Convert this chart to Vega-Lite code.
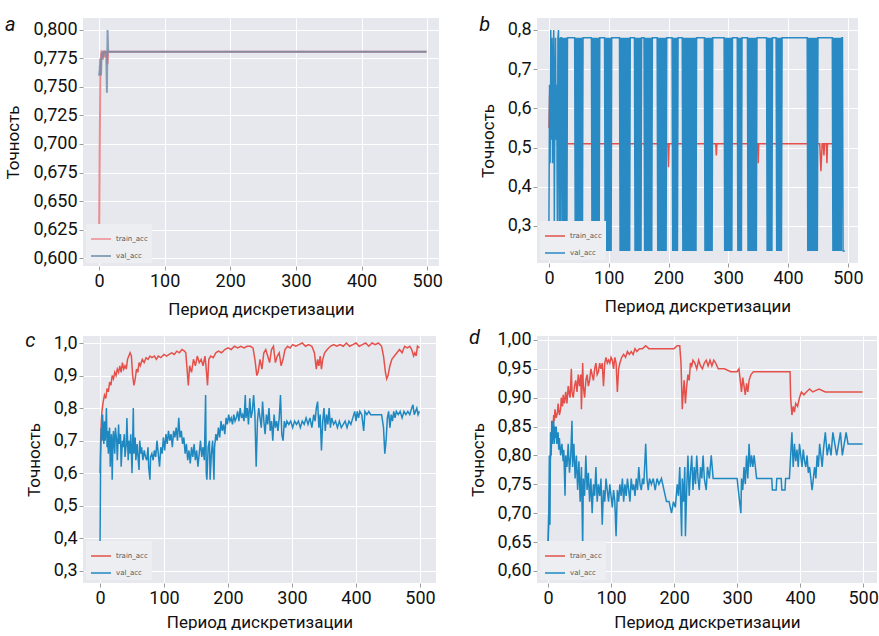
{
"$schema":"https://vega.github.io/schema/vega-lite/v6.json",
"background":"white",
"padding":{"left":4,"top":15,"right":0,"bottom":0},
"autosize":{"type":"pad"},
"columns":2,
"bounds":"flush",
"spacing":{"row":70,"column":98},
"resolve":{"scale":{"x":"independent","y":"independent","color":"independent"},"legend":{"color":"independent"}},
"config":{
"font":"Roboto",
"view":{"fill":"#e6e8ed","stroke":null},
"axis":{"domain":false,"grid":true,"gridColor":"#ffffff","gridWidth":1,"tickColor":"#9a9a9a","tickSize":4,"labelFontSize":18,"labelColor":"#111111","titleFontSize":17,"titleFontWeight":"normal","titleColor":"#111111","labelPadding":2},
"axisX":{"titlePadding":11},
"axisY":{"titlePadding":10},
"legend":{"orient":"bottom-left","offset":3,"symbolType":"stroke","symbolSize":400,"symbolStrokeWidth":1.5,"labelFontSize":7,"labelFont":"DejaVu Sans","labelColor":"#555555","rowPadding":3,"padding":4,"fillColor":"#eceef2","titleFontSize":0},
"title":{"anchor":"start","frame":"bounds","fontStyle":"italic","fontSize":20,"fontWeight":"normal","baseline":"alphabetic","offset":-17,"color":"#111111"},
"line":{"strokeWidth":1.5}
},
"datasets":{
"at":[{"x":0,"y":0.604},{"x":1,"y":0.69},{"x":2,"y":0.76},{"x":3,"y":0.778},{"x":4,"y":0.782},{"x":5,"y":0.779},{"x":6,"y":0.774},{"x":7,"y":0.78},{"x":8,"y":0.782},{"x":9,"y":0.776},{"x":10,"y":0.781},{"x":12,"y":0.781},{"x":13,"y":0.77},{"x":14,"y":0.781},{"x":16,"y":0.781},{"x":499,"y":0.781}],
"av":[{"x":0,"y":0.76},{"x":1,"y":0.765},{"x":2,"y":0.775},{"x":3,"y":0.76},{"x":4,"y":0.778},{"x":5,"y":0.781},{"x":6,"y":0.776},{"x":8,"y":0.781},{"x":11,"y":0.781},{"x":12,"y":0.745},{"x":13,"y":0.8},{"x":14,"y":0.781},{"x":15,"y":0.781},{"x":499,"y":0.781}],
"bt":[{"x":0,"y":0.55},{"x":1,"y":0.63},{"x":2,"y":0.66},{"x":3,"y":0.6},{"x":4,"y":0.65},{"x":5,"y":0.62},{"x":6,"y":0.66},{"x":7,"y":0.58},{"x":8,"y":0.64},{"x":9,"y":0.6},{"x":10,"y":0.65},{"x":11,"y":0.58},{"x":12,"y":0.62},{"x":13,"y":0.57},{"x":14,"y":0.6},{"x":15,"y":0.55},{"x":16,"y":0.57},{"x":17,"y":0.53},{"x":18,"y":0.55},{"x":20,"y":0.52},{"x":22,"y":0.51},{"x":44,"y":0.51},{"x":45,"y":0.49},{"x":46,"y":0.51},{"x":95,"y":0.51},{"x":96,"y":0.48},{"x":97,"y":0.51},{"x":99,"y":0.51},{"x":100,"y":0.49},{"x":101,"y":0.51},{"x":199,"y":0.51},{"x":200,"y":0.45},{"x":201,"y":0.51},{"x":224,"y":0.51},{"x":225,"y":0.48},{"x":226,"y":0.51},{"x":279,"y":0.51},{"x":280,"y":0.48},{"x":281,"y":0.51},{"x":349,"y":0.51},{"x":350,"y":0.46},{"x":351,"y":0.51},{"x":369,"y":0.51},{"x":370,"y":0.48},{"x":371,"y":0.51},{"x":453,"y":0.51},{"x":455,"y":0.44},{"x":457,"y":0.51},{"x":459,"y":0.51},{"x":460,"y":0.48},{"x":461,"y":0.51},{"x":464,"y":0.51},{"x":465,"y":0.46},{"x":466,"y":0.51},{"x":485,"y":0.51},{"x":488,"y":0.5},{"x":492,"y":0.5}],
"bv":[{"x":0,"y":0.3},{"x":1,"y":0.66},{"x":2,"y":0.46},{"x":3,"y":0.8},{"x":4,"y":0.52},{"x":5,"y":0.78},{"x":6,"y":0.46},{"x":7,"y":0.7},{"x":8,"y":0.8},{"x":9,"y":0.3},{"x":10,"y":0.62},{"x":11,"y":0.78},{"x":12,"y":0.52},{"x":13,"y":0.66},{"x":14,"y":0.3},{"x":15,"y":0.78},{"x":16,"y":0.8},{"x":17,"y":0.3},{"x":18,"y":0.78},{"x":19,"y":0.3},{"x":20,"y":0.78},{"x":21,"y":0.78},
{"x":22,"y":0.236},{"x":23,"y":0.78},{"x":24,"y":0.236},{"x":25,"y":0.78},{"x":26,"y":0.236},{"x":27,"y":0.78},{"x":28,"y":0.236},{"x":29,"y":0.78},{"x":30,"y":0.236},{"x":31,"y":0.78},
{"x":43,"y":0.78},{"x":44,"y":0.236},{"x":45,"y":0.78},{"x":46,"y":0.236},{"x":47,"y":0.78},{"x":48,"y":0.236},{"x":49,"y":0.78},{"x":50,"y":0.236},{"x":51,"y":0.78},{"x":52,"y":0.236},{"x":53,"y":0.78},{"x":54,"y":0.236},{"x":55,"y":0.78},{"x":56,"y":0.236},{"x":57,"y":0.78},
{"x":71,"y":0.78},{"x":72,"y":0.236},{"x":73,"y":0.78},{"x":74,"y":0.236},{"x":75,"y":0.78},{"x":76,"y":0.236},{"x":77,"y":0.78},{"x":78,"y":0.236},{"x":79,"y":0.78},{"x":80,"y":0.236},{"x":81,"y":0.78},{"x":82,"y":0.236},{"x":83,"y":0.78},{"x":84,"y":0.236},{"x":85,"y":0.78},
{"x":93,"y":0.78},{"x":94,"y":0.236},{"x":95,"y":0.78},{"x":96,"y":0.236},{"x":97,"y":0.78},{"x":98,"y":0.236},{"x":99,"y":0.78},{"x":100,"y":0.236},{"x":101,"y":0.78},{"x":102,"y":0.236},{"x":103,"y":0.78},{"x":104,"y":0.236},{"x":105,"y":0.78},
{"x":118,"y":0.78},{"x":119,"y":0.236},{"x":120,"y":0.78},{"x":121,"y":0.236},{"x":122,"y":0.78},{"x":123,"y":0.236},{"x":124,"y":0.78},{"x":125,"y":0.236},{"x":126,"y":0.78},{"x":127,"y":0.236},{"x":128,"y":0.78},{"x":129,"y":0.236},{"x":130,"y":0.78},{"x":131,"y":0.236},{"x":132,"y":0.78},{"x":133,"y":0.236},{"x":134,"y":0.78},{"x":135,"y":0.236},{"x":136,"y":0.78},
{"x":143,"y":0.78},{"x":144,"y":0.236},{"x":145,"y":0.78},{"x":146,"y":0.236},{"x":147,"y":0.78},{"x":148,"y":0.236},{"x":149,"y":0.78},{"x":150,"y":0.236},{"x":151,"y":0.78},{"x":152,"y":0.236},{"x":153,"y":0.78},{"x":154,"y":0.236},{"x":155,"y":0.78},
{"x":159,"y":0.78},{"x":160,"y":0.236},{"x":161,"y":0.78},{"x":162,"y":0.236},{"x":163,"y":0.78},{"x":164,"y":0.236},{"x":165,"y":0.78},{"x":166,"y":0.236},{"x":167,"y":0.78},{"x":168,"y":0.236},{"x":169,"y":0.78},{"x":170,"y":0.236},{"x":171,"y":0.78},{"x":172,"y":0.236},{"x":173,"y":0.78},
{"x":181,"y":0.78},{"x":182,"y":0.236},{"x":183,"y":0.78},{"x":184,"y":0.236},{"x":185,"y":0.78},{"x":186,"y":0.236},{"x":187,"y":0.78},{"x":188,"y":0.236},{"x":189,"y":0.78},{"x":190,"y":0.236},{"x":191,"y":0.78},{"x":192,"y":0.236},{"x":193,"y":0.78},{"x":194,"y":0.236},{"x":195,"y":0.78},{"x":196,"y":0.236},{"x":197,"y":0.78},
{"x":206,"y":0.78},{"x":207,"y":0.236},{"x":208,"y":0.78},{"x":209,"y":0.236},{"x":210,"y":0.78},{"x":211,"y":0.236},{"x":212,"y":0.78},{"x":213,"y":0.236},{"x":214,"y":0.78},{"x":215,"y":0.236},{"x":216,"y":0.78},
{"x":223,"y":0.78},{"x":224,"y":0.236},{"x":225,"y":0.78},{"x":226,"y":0.236},{"x":227,"y":0.78},{"x":228,"y":0.236},{"x":229,"y":0.78},{"x":230,"y":0.236},{"x":231,"y":0.78},{"x":232,"y":0.236},{"x":233,"y":0.78},{"x":234,"y":0.236},{"x":235,"y":0.78},{"x":236,"y":0.236},{"x":237,"y":0.78},{"x":238,"y":0.236},{"x":239,"y":0.78},{"x":240,"y":0.236},{"x":241,"y":0.78},{"x":242,"y":0.236},{"x":243,"y":0.78},{"x":244,"y":0.236},{"x":245,"y":0.78},{"x":246,"y":0.236},{"x":247,"y":0.78},
{"x":260,"y":0.78},{"x":261,"y":0.236},{"x":262,"y":0.78},{"x":263,"y":0.236},{"x":264,"y":0.78},{"x":265,"y":0.236},{"x":266,"y":0.78},{"x":267,"y":0.236},{"x":268,"y":0.78},{"x":269,"y":0.236},{"x":270,"y":0.78},{"x":271,"y":0.236},{"x":272,"y":0.78},{"x":273,"y":0.236},{"x":274,"y":0.78},
{"x":293,"y":0.78},{"x":294,"y":0.236},{"x":295,"y":0.78},{"x":296,"y":0.236},{"x":297,"y":0.78},{"x":298,"y":0.236},{"x":299,"y":0.78},{"x":300,"y":0.236},{"x":301,"y":0.78},{"x":302,"y":0.236},{"x":303,"y":0.78},{"x":304,"y":0.236},{"x":305,"y":0.78},{"x":306,"y":0.236},{"x":307,"y":0.78},
{"x":315,"y":0.78},{"x":316,"y":0.236},{"x":317,"y":0.78},{"x":318,"y":0.236},{"x":319,"y":0.78},{"x":320,"y":0.236},{"x":321,"y":0.78},{"x":322,"y":0.236},{"x":323,"y":0.78},
{"x":332,"y":0.78},{"x":333,"y":0.236},{"x":334,"y":0.78},{"x":335,"y":0.236},{"x":336,"y":0.78},{"x":337,"y":0.236},{"x":338,"y":0.78},{"x":339,"y":0.236},{"x":340,"y":0.78},{"x":341,"y":0.236},{"x":342,"y":0.78},{"x":343,"y":0.236},{"x":344,"y":0.78},{"x":345,"y":0.236},{"x":346,"y":0.78},{"x":347,"y":0.236},{"x":348,"y":0.78},
{"x":364,"y":0.78},{"x":365,"y":0.236},{"x":366,"y":0.78},{"x":367,"y":0.236},{"x":368,"y":0.78},{"x":369,"y":0.236},{"x":370,"y":0.78},{"x":371,"y":0.236},{"x":372,"y":0.78},{"x":373,"y":0.236},{"x":374,"y":0.78},
{"x":380,"y":0.78},{"x":381,"y":0.236},{"x":382,"y":0.78},{"x":383,"y":0.236},{"x":384,"y":0.78},{"x":385,"y":0.236},{"x":386,"y":0.78},{"x":387,"y":0.236},{"x":388,"y":0.78},{"x":389,"y":0.236},{"x":390,"y":0.78},
{"x":432,"y":0.78},{"x":433,"y":0.236},{"x":434,"y":0.78},{"x":435,"y":0.236},{"x":436,"y":0.78},{"x":437,"y":0.236},{"x":438,"y":0.78},{"x":439,"y":0.236},{"x":440,"y":0.78},{"x":441,"y":0.236},{"x":442,"y":0.78},{"x":443,"y":0.236},{"x":444,"y":0.78},{"x":445,"y":0.236},{"x":446,"y":0.78},{"x":447,"y":0.236},{"x":448,"y":0.78},{"x":449,"y":0.236},{"x":450,"y":0.78},
{"x":474,"y":0.78},{"x":475,"y":0.236},{"x":476,"y":0.78},{"x":477,"y":0.236},{"x":478,"y":0.78},{"x":479,"y":0.236},{"x":480,"y":0.78},{"x":481,"y":0.236},{"x":482,"y":0.78},{"x":483,"y":0.236},{"x":484,"y":0.78},{"x":485,"y":0.236},{"x":486,"y":0.78},{"x":487,"y":0.236},{"x":488,"y":0.78},{"x":489,"y":0.236},{"x":490,"y":0.78},
{"x":491,"y":0.78},{"x":492,"y":0.236},{"x":495,"y":0.236}],
"ct":[{"x":0,"y":0.6},{"x":1,"y":0.7},{"x":2,"y":0.76},{"x":3,"y":0.79},{"x":5,"y":0.82},{"x":7,"y":0.84},{"x":9,"y":0.83},{"x":11,"y":0.86},{"x":13,"y":0.85},{"x":15,"y":0.88},{"x":17,"y":0.87},{"x":19,"y":0.9},{"x":21,"y":0.89},{"x":23,"y":0.91},{"x":25,"y":0.9},{"x":27,"y":0.92},{"x":29,"y":0.91},{"x":31,"y":0.93},{"x":33,"y":0.91},{"x":35,"y":0.94},{"x":37,"y":0.92},{"x":39,"y":0.93},{"x":41,"y":0.92},{"x":43,"y":0.95},{"x":45,"y":0.96},{"x":47,"y":0.97},{"x":49,"y":0.96},{"x":51,"y":0.9},{"x":53,"y":0.87},{"x":55,"y":0.89},{"x":57,"y":0.92},{"x":59,"y":0.91},{"x":61,"y":0.94},{"x":63,"y":0.93},{"x":66,"y":0.95},{"x":69,"y":0.94},{"x":72,"y":0.955},{"x":75,"y":0.95},{"x":78,"y":0.96},{"x":81,"y":0.955},{"x":85,"y":0.96},{"x":88,"y":0.95},{"x":91,"y":0.96},{"x":95,"y":0.955},{"x":100,"y":0.965},{"x":104,"y":0.96},{"x":108,"y":0.965},{"x":112,"y":0.97},{"x":116,"y":0.965},{"x":120,"y":0.975},{"x":124,"y":0.97},{"x":128,"y":0.98},{"x":132,"y":0.975},{"x":134,"y":0.97},{"x":136,"y":0.92},{"x":138,"y":0.87},{"x":140,"y":0.93},{"x":143,"y":0.91},{"x":146,"y":0.95},{"x":149,"y":0.93},{"x":152,"y":0.96},{"x":155,"y":0.94},{"x":158,"y":0.95},{"x":161,"y":0.93},{"x":164,"y":0.96},{"x":166,"y":0.92},{"x":168,"y":0.87},{"x":170,"y":0.95},{"x":173,"y":0.96},{"x":177,"y":0.955},{"x":181,"y":0.97},{"x":185,"y":0.975},{"x":190,"y":0.97},{"x":195,"y":0.98},{"x":200,"y":0.985},{"x":205,"y":0.98},{"x":210,"y":0.99},{"x":215,"y":0.985},{"x":220,"y":0.99},{"x":225,"y":0.985},{"x":230,"y":0.99},{"x":235,"y":0.99},{"x":239,"y":0.985},{"x":242,"y":0.95},{"x":245,"y":0.9},{"x":247,"y":0.91},{"x":250,"y":0.95},{"x":253,"y":0.92},{"x":256,"y":0.97},{"x":259,"y":0.98},{"x":262,"y":0.96},{"x":265,"y":0.94},{"x":268,"y":0.98},{"x":271,"y":0.99},{"x":274,"y":0.94},{"x":277,"y":0.96},{"x":280,"y":0.97},{"x":283,"y":0.93},{"x":286,"y":0.95},{"x":289,"y":0.98},{"x":293,"y":0.99},{"x":297,"y":0.985},{"x":301,"y":0.995},{"x":306,"y":0.99},{"x":311,"y":0.995},{"x":316,"y":1.0},{"x":321,"y":0.99},{"x":326,"y":0.995},{"x":331,"y":0.99},{"x":335,"y":0.97},{"x":338,"y":0.92},{"x":340,"y":0.95},{"x":342,"y":0.93},{"x":344,"y":0.96},{"x":346,"y":0.92},{"x":348,"y":0.95},{"x":351,"y":0.97},{"x":355,"y":0.98},{"x":360,"y":0.99},{"x":365,"y":0.995},{"x":370,"y":0.99},{"x":375,"y":0.995},{"x":380,"y":0.99},{"x":385,"y":1.0},{"x":390,"y":0.99},{"x":395,"y":0.995},{"x":400,"y":1.0},{"x":405,"y":0.99},{"x":410,"y":0.995},{"x":415,"y":1.0},{"x":420,"y":0.99},{"x":425,"y":1.0},{"x":430,"y":0.995},{"x":435,"y":1.0},{"x":440,"y":0.99},{"x":443,"y":0.96},{"x":446,"y":0.91},{"x":448,"y":0.89},{"x":450,"y":0.9},{"x":453,"y":0.93},{"x":456,"y":0.95},{"x":460,"y":0.96},{"x":464,"y":0.97},{"x":468,"y":0.98},{"x":472,"y":0.97},{"x":476,"y":0.99},{"x":480,"y":0.985},{"x":484,"y":0.99},{"x":487,"y":0.98},{"x":490,"y":0.96},{"x":492,"y":0.97},{"x":494,"y":0.96},{"x":496,"y":0.99},{"x":499,"y":0.985}],
"cv":[{"x":0,"y":0.37},{"x":1,"y":0.66},{"x":2,"y":0.74},{"x":3,"y":0.7},{"x":4,"y":0.78},{"x":5,"y":0.72},{"x":6,"y":0.69},{"x":7,"y":0.76},{"x":8,"y":0.7},{"x":9,"y":0.74},{"x":10,"y":0.8},{"x":11,"y":0.68},{"x":12,"y":0.73},{"x":13,"y":0.66},{"x":14,"y":0.72},{"x":15,"y":0.74},{"x":16,"y":0.62},{"x":17,"y":0.7},{"x":18,"y":0.72},{"x":19,"y":0.58},{"x":20,"y":0.68},{"x":21,"y":0.73},{"x":23,"y":0.66},{"x":24,"y":0.74},{"x":26,"y":0.7},{"x":27,"y":0.64},{"x":29,"y":0.75},{"x":30,"y":0.69},{"x":32,"y":0.72},{"x":33,"y":0.62},{"x":35,"y":0.7},{"x":36,"y":0.68},{"x":38,"y":0.72},{"x":39,"y":0.65},{"x":41,"y":0.69},{"x":42,"y":0.77},{"x":44,"y":0.64},{"x":45,"y":0.7},{"x":47,"y":0.66},{"x":48,"y":0.72},{"x":50,"y":0.6},{"x":51,"y":0.7},{"x":52,"y":0.8},{"x":53,"y":0.66},{"x":55,"y":0.71},{"x":56,"y":0.64},{"x":58,"y":0.69},{"x":59,"y":0.66},{"x":61,"y":0.61},{"x":62,"y":0.7},{"x":64,"y":0.66},{"x":65,"y":0.68},{"x":67,"y":0.64},{"x":69,"y":0.67},{"x":71,"y":0.65},{"x":73,"y":0.64},{"x":75,"y":0.68},{"x":76,"y":0.62},{"x":78,"y":0.58},{"x":79,"y":0.65},{"x":81,"y":0.66},{"x":83,"y":0.64},{"x":85,"y":0.67},{"x":87,"y":0.65},{"x":89,"y":0.7},{"x":91,"y":0.66},{"x":93,"y":0.62},{"x":95,"y":0.68},{"x":97,"y":0.66},{"x":99,"y":0.71},{"x":101,"y":0.67},{"x":103,"y":0.72},{"x":105,"y":0.69},{"x":107,"y":0.73},{"x":109,"y":0.7},{"x":111,"y":0.72},{"x":113,"y":0.68},{"x":115,"y":0.73},{"x":117,"y":0.71},{"x":119,"y":0.74},{"x":121,"y":0.7},{"x":123,"y":0.77},{"x":125,"y":0.71},{"x":127,"y":0.73},{"x":129,"y":0.69},{"x":131,"y":0.71},{"x":133,"y":0.66},{"x":135,"y":0.69},{"x":137,"y":0.64},{"x":139,"y":0.67},{"x":141,"y":0.63},{"x":143,"y":0.68},{"x":145,"y":0.65},{"x":147,"y":0.69},{"x":149,"y":0.64},{"x":151,"y":0.67},{"x":153,"y":0.62},{"x":155,"y":0.66},{"x":157,"y":0.7},{"x":159,"y":0.65},{"x":161,"y":0.68},{"x":163,"y":0.64},{"x":165,"y":0.84},{"x":166,"y":0.6},{"x":167,"y":0.58},{"x":169,"y":0.68},{"x":171,"y":0.7},{"x":172,"y":0.58},{"x":174,"y":0.66},{"x":176,"y":0.7},{"x":178,"y":0.58},{"x":179,"y":0.68},{"x":181,"y":0.72},{"x":183,"y":0.7},{"x":185,"y":0.74},{"x":187,"y":0.71},{"x":189,"y":0.76},{"x":191,"y":0.73},{"x":193,"y":0.75},{"x":195,"y":0.72},{"x":197,"y":0.77},{"x":199,"y":0.75},{"x":201,"y":0.78},{"x":203,"y":0.76},{"x":205,"y":0.77},{"x":207,"y":0.75},{"x":209,"y":0.78},{"x":211,"y":0.76},{"x":213,"y":0.77},{"x":215,"y":0.79},{"x":217,"y":0.76},{"x":219,"y":0.8},{"x":221,"y":0.77},{"x":223,"y":0.78},{"x":225,"y":0.76},{"x":227,"y":0.84},{"x":228,"y":0.77},{"x":230,"y":0.8},{"x":232,"y":0.75},{"x":234,"y":0.83},{"x":236,"y":0.77},{"x":238,"y":0.79},{"x":240,"y":0.84},{"x":242,"y":0.78},{"x":244,"y":0.62},{"x":246,"y":0.76},{"x":248,"y":0.8},{"x":250,"y":0.77},{"x":252,"y":0.74},{"x":254,"y":0.82},{"x":256,"y":0.76},{"x":258,"y":0.72},{"x":260,"y":0.78},{"x":262,"y":0.75},{"x":264,"y":0.8},{"x":266,"y":0.73},{"x":268,"y":0.76},{"x":270,"y":0.7},{"x":272,"y":0.78},{"x":274,"y":0.74},{"x":276,"y":0.76},{"x":278,"y":0.73},{"x":280,"y":0.77},{"x":282,"y":0.84},{"x":284,"y":0.72},{"x":286,"y":0.7},{"x":288,"y":0.76},{"x":290,"y":0.74},{"x":292,"y":0.76},{"x":295,"y":0.75},{"x":298,"y":0.76},{"x":301,"y":0.74},{"x":304,"y":0.76},{"x":307,"y":0.75},{"x":310,"y":0.76},{"x":313,"y":0.74},{"x":316,"y":0.76},{"x":319,"y":0.75},{"x":322,"y":0.77},{"x":325,"y":0.75},{"x":328,"y":0.77},{"x":331,"y":0.74},{"x":334,"y":0.78},{"x":336,"y":0.76},{"x":338,"y":0.8},{"x":340,"y":0.82},{"x":342,"y":0.74},{"x":344,"y":0.78},{"x":346,"y":0.67},{"x":348,"y":0.76},{"x":350,"y":0.8},{"x":352,"y":0.73},{"x":354,"y":0.78},{"x":356,"y":0.75},{"x":358,"y":0.8},{"x":360,"y":0.74},{"x":362,"y":0.77},{"x":365,"y":0.75},{"x":368,"y":0.76},{"x":371,"y":0.74},{"x":374,"y":0.76},{"x":377,"y":0.74},{"x":380,"y":0.75},{"x":383,"y":0.76},{"x":386,"y":0.74},{"x":389,"y":0.76},{"x":392,"y":0.75},{"x":395,"y":0.77},{"x":398,"y":0.79},{"x":400,"y":0.76},{"x":402,"y":0.79},{"x":404,"y":0.77},{"x":406,"y":0.79},{"x":409,"y":0.78},{"x":412,"y":0.73},{"x":414,"y":0.79},{"x":417,"y":0.78},{"x":420,"y":0.79},{"x":423,"y":0.78},{"x":440,"y":0.78},{"x":443,"y":0.74},{"x":445,"y":0.66},{"x":447,"y":0.7},{"x":449,"y":0.77},{"x":451,"y":0.79},{"x":453,"y":0.74},{"x":455,"y":0.78},{"x":457,"y":0.76},{"x":459,"y":0.79},{"x":461,"y":0.77},{"x":463,"y":0.79},{"x":466,"y":0.78},{"x":469,"y":0.79},{"x":472,"y":0.77},{"x":475,"y":0.79},{"x":478,"y":0.78},{"x":481,"y":0.79},{"x":484,"y":0.78},{"x":487,"y":0.8},{"x":489,"y":0.81},{"x":491,"y":0.78},{"x":493,"y":0.79},{"x":495,"y":0.8},{"x":497,"y":0.78},{"x":499,"y":0.79}],
"dt":[{"x":0,"y":0.645},{"x":1,"y":0.7},{"x":2,"y":0.68},{"x":3,"y":0.78},{"x":4,"y":0.8},{"x":5,"y":0.84},{"x":6,"y":0.82},{"x":7,"y":0.86},{"x":8,"y":0.85},{"x":9,"y":0.87},{"x":10,"y":0.86},{"x":11,"y":0.88},{"x":13,"y":0.865},{"x":15,"y":0.875},{"x":16,"y":0.89},{"x":18,"y":0.87},{"x":20,"y":0.88},{"x":21,"y":0.9},{"x":23,"y":0.885},{"x":24,"y":0.905},{"x":26,"y":0.89},{"x":28,"y":0.91},{"x":30,"y":0.89},{"x":32,"y":0.92},{"x":34,"y":0.905},{"x":35,"y":0.9},{"x":37,"y":0.95},{"x":38,"y":0.91},{"x":40,"y":0.9},{"x":42,"y":0.92},{"x":44,"y":0.93},{"x":46,"y":0.91},{"x":48,"y":0.94},{"x":50,"y":0.92},{"x":52,"y":0.94},{"x":53,"y":0.88},{"x":55,"y":0.96},{"x":56,"y":0.92},{"x":58,"y":0.9},{"x":60,"y":0.93},{"x":62,"y":0.94},{"x":64,"y":0.92},{"x":66,"y":0.93},{"x":68,"y":0.95},{"x":70,"y":0.94},{"x":72,"y":0.93},{"x":74,"y":0.95},{"x":76,"y":0.96},{"x":78,"y":0.94},{"x":80,"y":0.945},{"x":82,"y":0.96},{"x":84,"y":0.95},{"x":86,"y":0.96},{"x":88,"y":0.92},{"x":90,"y":0.96},{"x":92,"y":0.97},{"x":94,"y":0.96},{"x":96,"y":0.965},{"x":98,"y":0.96},{"x":100,"y":0.97},{"x":102,"y":0.965},{"x":104,"y":0.95},{"x":106,"y":0.97},{"x":108,"y":0.96},{"x":110,"y":0.91},{"x":112,"y":0.95},{"x":114,"y":0.96},{"x":117,"y":0.97},{"x":120,"y":0.975},{"x":123,"y":0.97},{"x":126,"y":0.98},{"x":129,"y":0.975},{"x":132,"y":0.98},{"x":135,"y":0.975},{"x":138,"y":0.985},{"x":141,"y":0.98},{"x":145,"y":0.985},{"x":150,"y":0.985},{"x":155,"y":0.99},{"x":160,"y":0.985},{"x":170,"y":0.985},{"x":180,"y":0.985},{"x":190,"y":0.985},{"x":200,"y":0.985},{"x":205,"y":0.99},{"x":209,"y":0.99},{"x":211,"y":0.96},{"x":213,"y":0.88},{"x":214,"y":0.9},{"x":216,"y":0.93},{"x":218,"y":0.89},{"x":220,"y":0.92},{"x":222,"y":0.94},{"x":224,"y":0.93},{"x":226,"y":0.96},{"x":228,"y":0.955},{"x":230,"y":0.965},{"x":233,"y":0.96},{"x":236,"y":0.95},{"x":239,"y":0.965},{"x":242,"y":0.955},{"x":245,"y":0.95},{"x":248,"y":0.96},{"x":251,"y":0.965},{"x":254,"y":0.955},{"x":257,"y":0.965},{"x":260,"y":0.955},{"x":263,"y":0.965},{"x":266,"y":0.96},{"x":270,"y":0.95},{"x":280,"y":0.95},{"x":290,"y":0.945},{"x":300,"y":0.945},{"x":303,"y":0.95},{"x":305,"y":0.93},{"x":307,"y":0.91},{"x":309,"y":0.935},{"x":311,"y":0.92},{"x":313,"y":0.905},{"x":315,"y":0.925},{"x":317,"y":0.91},{"x":319,"y":0.93},{"x":322,"y":0.94},{"x":326,"y":0.945},{"x":384,"y":0.945},{"x":385,"y":0.9},{"x":387,"y":0.87},{"x":389,"y":0.885},{"x":391,"y":0.875},{"x":393,"y":0.89},{"x":396,"y":0.885},{"x":399,"y":0.9},{"x":402,"y":0.91},{"x":406,"y":0.905},{"x":410,"y":0.91},{"x":415,"y":0.915},{"x":420,"y":0.91},{"x":430,"y":0.915},{"x":440,"y":0.91},{"x":499,"y":0.91}],
"dv":[{"x":0,"y":0.64},{"x":1,"y":0.68},{"x":2,"y":0.8},{"x":3,"y":0.68},{"x":4,"y":0.84},{"x":5,"y":0.8},{"x":6,"y":0.86},{"x":7,"y":0.82},{"x":8,"y":0.84},{"x":9,"y":0.86},{"x":10,"y":0.82},{"x":11,"y":0.85},{"x":12,"y":0.83},{"x":13,"y":0.85},{"x":14,"y":0.82},{"x":16,"y":0.84},{"x":17,"y":0.81},{"x":18,"y":0.83},{"x":20,"y":0.8},{"x":22,"y":0.82},{"x":24,"y":0.79},{"x":25,"y":0.81},{"x":27,"y":0.73},{"x":28,"y":0.8},{"x":30,"y":0.78},{"x":32,"y":0.82},{"x":34,"y":0.77},{"x":36,"y":0.8},{"x":38,"y":0.86},{"x":39,"y":0.78},{"x":41,"y":0.82},{"x":43,"y":0.76},{"x":45,"y":0.8},{"x":47,"y":0.74},{"x":49,"y":0.79},{"x":51,"y":0.72},{"x":53,"y":0.78},{"x":55,"y":0.64},{"x":56,"y":0.76},{"x":58,"y":0.73},{"x":60,"y":0.8},{"x":62,"y":0.74},{"x":64,"y":0.77},{"x":66,"y":0.72},{"x":68,"y":0.76},{"x":70,"y":0.7},{"x":72,"y":0.75},{"x":74,"y":0.73},{"x":76,"y":0.78},{"x":78,"y":0.72},{"x":80,"y":0.75},{"x":82,"y":0.73},{"x":84,"y":0.76},{"x":86,"y":0.68},{"x":88,"y":0.74},{"x":90,"y":0.72},{"x":92,"y":0.76},{"x":94,"y":0.74},{"x":96,"y":0.72},{"x":98,"y":0.75},{"x":100,"y":0.73},{"x":102,"y":0.71},{"x":104,"y":0.74},{"x":106,"y":0.72},{"x":108,"y":0.66},{"x":110,"y":0.74},{"x":112,"y":0.72},{"x":114,"y":0.75},{"x":116,"y":0.73},{"x":118,"y":0.76},{"x":120,"y":0.72},{"x":122,"y":0.75},{"x":124,"y":0.73},{"x":126,"y":0.76},{"x":128,"y":0.74},{"x":130,"y":0.72},{"x":132,"y":0.76},{"x":134,"y":0.74},{"x":136,"y":0.75},{"x":138,"y":0.73},{"x":140,"y":0.76},{"x":142,"y":0.74},{"x":144,"y":0.78},{"x":146,"y":0.75},{"x":148,"y":0.74},{"x":150,"y":0.76},{"x":152,"y":0.75},{"x":155,"y":0.82},{"x":157,"y":0.76},{"x":159,"y":0.74},{"x":161,"y":0.76},{"x":164,"y":0.75},{"x":167,"y":0.76},{"x":170,"y":0.74},{"x":173,"y":0.76},{"x":176,"y":0.75},{"x":180,"y":0.76},{"x":184,"y":0.74},{"x":188,"y":0.72},{"x":192,"y":0.72},{"x":196,"y":0.7},{"x":199,"y":0.72},{"x":202,"y":0.71},{"x":205,"y":0.75},{"x":207,"y":0.73},{"x":209,"y":0.78},{"x":211,"y":0.7},{"x":212,"y":0.66},{"x":213,"y":0.76},{"x":215,"y":0.72},{"x":217,"y":0.78},{"x":218,"y":0.66},{"x":220,"y":0.74},{"x":222,"y":0.8},{"x":224,"y":0.73},{"x":226,"y":0.77},{"x":228,"y":0.8},{"x":230,"y":0.74},{"x":232,"y":0.78},{"x":234,"y":0.75},{"x":236,"y":0.8},{"x":238,"y":0.76},{"x":240,"y":0.74},{"x":242,"y":0.78},{"x":244,"y":0.76},{"x":246,"y":0.8},{"x":248,"y":0.76},{"x":251,"y":0.74},{"x":253,"y":0.78},{"x":256,"y":0.76},{"x":259,"y":0.8},{"x":262,"y":0.76},{"x":300,"y":0.76},{"x":302,"y":0.74},{"x":304,"y":0.72},{"x":306,"y":0.7},{"x":307,"y":0.76},{"x":309,"y":0.74},{"x":311,"y":0.78},{"x":313,"y":0.75},{"x":315,"y":0.8},{"x":317,"y":0.76},{"x":319,"y":0.82},{"x":321,"y":0.78},{"x":323,"y":0.8},{"x":325,"y":0.78},{"x":327,"y":0.8},{"x":329,"y":0.78},{"x":331,"y":0.76},{"x":355,"y":0.76},{"x":356,"y":0.74},{"x":362,"y":0.74},{"x":363,"y":0.76},{"x":370,"y":0.76},{"x":371,"y":0.74},{"x":376,"y":0.74},{"x":377,"y":0.76},{"x":383,"y":0.76},{"x":385,"y":0.8},{"x":387,"y":0.84},{"x":389,"y":0.78},{"x":391,"y":0.82},{"x":393,"y":0.79},{"x":395,"y":0.81},{"x":397,"y":0.78},{"x":399,"y":0.82},{"x":401,"y":0.8},{"x":403,"y":0.78},{"x":405,"y":0.81},{"x":407,"y":0.79},{"x":409,"y":0.78},{"x":411,"y":0.8},{"x":413,"y":0.77},{"x":415,"y":0.78},{"x":417,"y":0.76},{"x":419,"y":0.74},{"x":421,"y":0.76},{"x":423,"y":0.78},{"x":425,"y":0.76},{"x":427,"y":0.8},{"x":429,"y":0.78},{"x":431,"y":0.82},{"x":433,"y":0.8},{"x":435,"y":0.78},{"x":437,"y":0.81},{"x":440,"y":0.84},{"x":443,"y":0.8},{"x":446,"y":0.82},{"x":449,"y":0.8},{"x":452,"y":0.84},{"x":455,"y":0.82},{"x":458,"y":0.8},{"x":461,"y":0.82},{"x":464,"y":0.84},{"x":467,"y":0.8},{"x":470,"y":0.82},{"x":473,"y":0.84},{"x":476,"y":0.82},{"x":480,"y":0.82},{"x":490,"y":0.82},{"x":499,"y":0.82}]
},
"concat":[
{"width":356,"height":248,"title":{"text":"a"},
"encoding":{
"x":{"field":"x","type":"quantitative","scale":{"domain":[-24.4,518],"nice":false,"zero":false},"axis":{"values":[0,100,200,300,400,500],"title":"Период дискретизации"}},
"y":{"field":"y","type":"quantitative","scale":{"domain":[0.593,0.8105],"nice":false,"zero":false},"axis":{"values":[0.6,0.625,0.65,0.675,0.7,0.725,0.75,0.775,0.8],"labelExpr":"replace(format(datum.value,'.3f'),'.',',')","title":"Точность"}}},
"layer":[
{"data":{"name":"at"},"mark":{"type":"line","strokeWidth":2},"encoding":{"color":{"datum":"train_acc","scale":{"domain":["train_acc","val_acc"],"range":["#ee8a8e","#6f8aa6"]},"legend":{"title":null}}}},
{"data":{"name":"av"},"mark":{"type":"line","strokeWidth":2,"opacity":0.8},"encoding":{"color":{"datum":"val_acc","scale":{"domain":["train_acc","val_acc"],"range":["#ee8a8e","#6f8aa6"]},"legend":{"title":null}}}}
]},
{"width":321,"height":245,"title":{"text":"b"},
"encoding":{
"x":{"field":"x","type":"quantitative","scale":{"domain":[-20,517],"nice":false,"zero":false},"axis":{"values":[0,100,200,300,400,500],"title":"Период дискретизации"}},
"y":{"field":"y","type":"quantitative","scale":{"domain":[0.2056,0.8306],"nice":false,"zero":false},"axis":{"values":[0.3,0.4,0.5,0.6,0.7,0.8],"labelExpr":"replace(format(datum.value,'.1f'),'.',',')","title":"Точность"}}},
"layer":[
{"data":{"name":"bt"},"mark":{"type":"line","strokeWidth":1.5},"encoding":{"color":{"datum":"train_acc","scale":{"domain":["train_acc","val_acc"],"range":["#e5514a","#2a8ac4"]},"legend":{"title":null}}}},
{"data":{"name":"bv"},"mark":{"type":"line","strokeWidth":1.5},"encoding":{"color":{"datum":"val_acc","scale":{"domain":["train_acc","val_acc"],"range":["#e5514a","#2a8ac4"]},"legend":{"title":null}}}}
]},
{"width":353,"height":247,"title":{"text":"c"},
"encoding":{
"x":{"field":"x","type":"quantitative","scale":{"domain":[-26.6,525],"nice":false,"zero":false},"axis":{"values":[0,100,200,300,400,500],"title":"Период дискретизации","titlePadding":7}},
"y":{"field":"y","type":"quantitative","scale":{"domain":[0.263,1.0215],"nice":false,"zero":false},"axis":{"values":[0.3,0.4,0.5,0.6,0.7,0.8,0.9,1.0],"labelExpr":"replace(format(datum.value,'.1f'),'.',',')","title":"Точность"}}},
"layer":[
{"data":{"name":"ct"},"mark":{"type":"line","strokeWidth":1.5},"encoding":{"color":{"datum":"train_acc","scale":{"domain":["train_acc","val_acc"],"range":["#e5514a","#1f88c0"]},"legend":{"title":null}}}},
{"data":{"name":"cv"},"mark":{"type":"line","strokeWidth":1.5},"encoding":{"color":{"datum":"val_acc","scale":{"domain":["train_acc","val_acc"],"range":["#e5514a","#1f88c0"]},"legend":{"title":null}}}}
]},
{"width":340,"height":247,"title":{"text":"d"},
"encoding":{
"x":{"field":"x","type":"quantitative","scale":{"domain":[-17.5,522],"nice":false,"zero":false},"axis":{"values":[0,100,200,300,400,500],"title":"Период дискретизации","titlePadding":7}},
"y":{"field":"y","type":"quantitative","scale":{"domain":[0.579,1.0069],"nice":false,"zero":false},"axis":{"values":[0.6,0.65,0.7,0.75,0.8,0.85,0.9,0.95,1.0],"labelExpr":"replace(format(datum.value,'.2f'),'.',',')","title":"Точность"}}},
"layer":[
{"data":{"name":"dt"},"mark":{"type":"line","strokeWidth":1.5},"encoding":{"color":{"datum":"train_acc","scale":{"domain":["train_acc","val_acc"],"range":["#e5514a","#1f88c0"]},"legend":{"title":null}}}},
{"data":{"name":"dv"},"mark":{"type":"line","strokeWidth":1.5},"encoding":{"color":{"datum":"val_acc","scale":{"domain":["train_acc","val_acc"],"range":["#e5514a","#1f88c0"]},"legend":{"title":null}}}}
]}
]
}
